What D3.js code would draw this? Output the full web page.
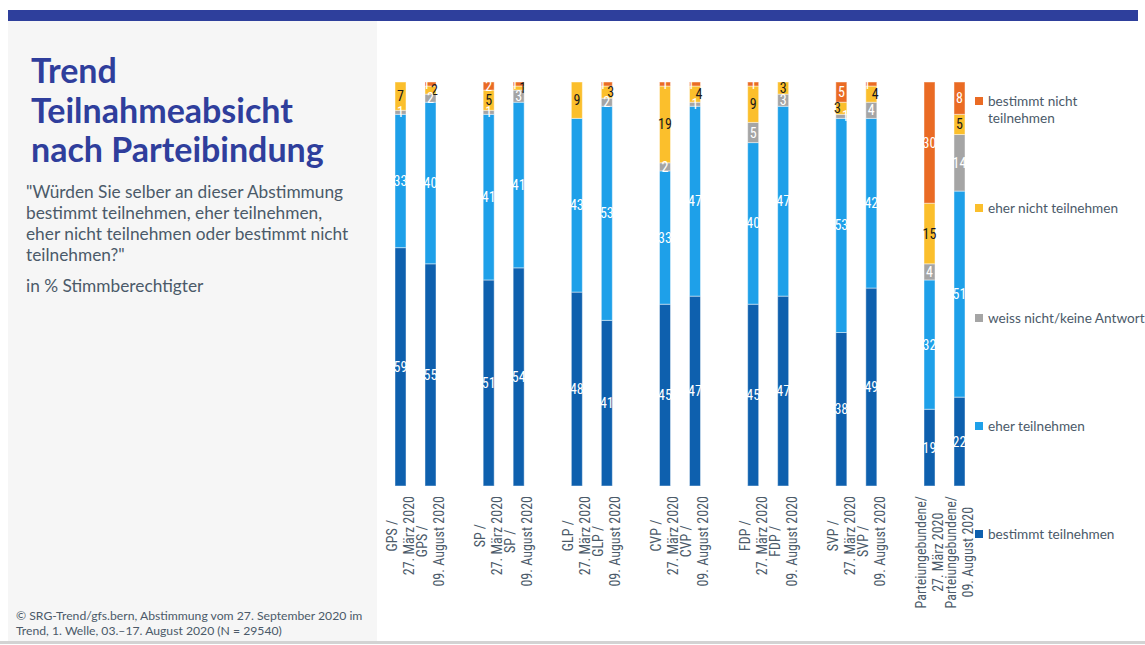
<!DOCTYPE html>
<html>
<head>
<meta charset="utf-8">
<script src="https://cdn.jsdelivr.net/npm/d3@7"></script>
<style>
  html, body { margin: 0; padding: 0; background: #ffffff; }
  svg { display: block; }
</style>
</head>
<body>
<svg id="chart" width="1145" height="645"></svg>
<script>
// Parties and survey waves
const parties = ["GPS", "SP", "GLP", "CVP", "FDP", "SVP", "Parteiungebundene"];
const partyAxisLabels = ["GPS /", "SP /", "GLP /", "CVP /", "FDP /", "SVP /", "Parteiungebundene/"];
const waves = ["27. März 2020", "09. August 2020"];

// Shares in %, one value per bar: party by party, March then August
const bestimmtTeilnehmen = [59, 55, 51, 54, 48, 41, 45, 47, 45, 47, 38, 49, 19, 22];
const eherTeilnehmen     = [33, 40, 41, 41, 43, 53, 33, 47, 40, 47, 53, 42, 32, 51];
const weissNicht         = [1, 2, 1, 3, 0, 2, 2, 1, 5, 3, 1, 4, 4, 14];
const eherNicht          = [7, 2, 5, 1, 9, 3, 19, 4, 9, 3, 3, 4, 15, 5];
const bestimmtNicht      = [0, 1, 2, 1, 0, 1, 1, 1, 1, 0, 5, 1, 30, 8];

const seriesNames = ["bestimmt teilnehmen", "eher teilnehmen", "weiss nicht/keine Antwort", "eher nicht teilnehmen", "bestimmt nicht teilnehmen"];
const legendLabels = [["bestimmt teilnehmen"], ["eher teilnehmen"], ["weiss nicht/keine Antwort"], ["eher nicht teilnehmen"], ["bestimmt nicht", "teilnehmen"]];
const seriesColors = ["#0e60ae", "#1ea0e9", "#a5a5a5", "#fbbf2c", "#ea6b24"];
const labelColors = ["#ffffff", "#ffffff", "#ffffff", "#1a1a1a", "#ffffff"];

const titleLines = ["Trend", "Teilnahmeabsicht", "nach Parteibindung"];
const questionLines = ["\"Würden Sie selber an dieser Abstimmung", "bestimmt teilnehmen, eher teilnehmen,", "eher nicht teilnehmen oder bestimmt nicht", "teilnehmen?\""];
const unitLine = "in % Stimmberechtigter";
const sourceLines = ["© SRG-Trend/gfs.bern, Abstimmung vom 27. September 2020 im", "Trend, 1. Welle, 03.–17. August 2020 (N = 29540)"];

const W = 1145, H = 645;
const svg = d3.select("#chart");
const textFont = "Lato, 'Open Sans', 'Noto Sans', sans-serif";
const narrowFont = "'Liberation Sans Narrow', 'Roboto Condensed', 'DejaVu Sans Condensed', Roboto, sans-serif";
const slate = "#4b5a69";

// Frame: blue header strip, grey side panel, bottom rule
svg.append("rect").attr("x", 8).attr("y", 10).attr("width", 1130).attr("height", 11).attr("fill", "#2e3f9c");
svg.append("rect").attr("x", 8).attr("y", 21).attr("width", 369).attr("height", 620).attr("fill", "#f6f6f6");
svg.append("rect").attr("x", 0).attr("y", 641).attr("width", W).attr("height", 3).attr("fill", "#d3d3d3");

// Title block
const title = svg.append("text").attr("font-family", textFont).attr("font-weight", 700)
  .attr("font-size", 34).attr("fill", "#2f3e9c");
titleLines.forEach((t, i) => title.append("tspan").attr("x", 31).attr("y", 83 + i * 39.5).text(t));

const question = svg.append("text").attr("font-family", textFont).attr("font-size", 17.3).attr("fill", slate);
questionLines.forEach((t, i) => question.append("tspan").attr("x", 26).attr("y", 198 + i * 21).text(t));
svg.append("text").attr("font-family", textFont).attr("font-size", 17.3).attr("fill", slate)
  .attr("x", 26).attr("y", 292).text(unitLine);

const source = svg.append("text").attr("font-family", textFont).attr("font-size", 12.2).attr("fill", slate);
sourceLines.forEach((t, i) => source.append("tspan").attr("x", 16).attr("y", 620 + i * 15).text(t));

// Scales
const y = d3.scaleLinear().domain([0, 100]).range([486, 82]);
const xGroup = d3.scaleBand().domain(parties).range([395, 965]).paddingInner(0.535).paddingOuter(0);
const xWave = d3.scaleBand().domain(waves).range([0, xGroup.bandwidth()]).paddingInner(0.633).paddingOuter(0);

const seriesValues = [bestimmtTeilnehmen, eherTeilnehmen, weissNicht, eherNicht, bestimmtNicht];
const rows = [];
parties.forEach((p, pi) => waves.forEach((w, wi) => {
  const idx = pi * 2 + wi;
  const row = { party: p, wave: w, idx };
  seriesNames.forEach((s, si) => { row[s] = seriesValues[si][idx]; });
  rows.push(row);
}));

const stack = d3.stack().keys(seriesNames);
const stacked = stack(rows);

const barX = r => xGroup(r.party) + xWave(r.wave);
const bw = xWave.bandwidth();

const plot = svg.append("g");
stacked.forEach((layer, si) => {
  plot.append("g").attr("fill", seriesColors[si])
    .selectAll("rect").data(layer.filter(d => d[1] - d[0] > 0)).join("rect")
    .attr("x", d => barX(d.data))
    .attr("width", bw)
    .attr("y", d => y(d[1]))
    .attr("height", d => y(d[0]) - y(d[1]))
    .attr("stroke", "rgba(255,255,255,0.45)")
    .attr("stroke-width", 1);
});

// Value labels, nudged sideways where two small segments sit on top of each other
const labelLayer = svg.append("g").attr("font-family", narrowFont).attr("font-size", 14).attr("text-anchor", "middle");
rows.forEach((r, ri) => {
  const cx = barX(r) + bw / 2;
  const items = [];
  for (let si = seriesNames.length - 1; si >= 0; si--) {
    const d = stacked[si][ri];
    const v = d[1] - d[0];
    if (v <= 0) continue;
    items.push({ si, v, cy: y((d[0] + d[1]) / 2), dx: 0 });
  }
  for (let k = 1; k < items.length; k++) {
    const prev = items[k - 1], cur = items[k];
    if (cur.cy - prev.cy < 11 && prev.dx === 0) {
      prev.dx = -4;
      cur.dx = 4;
    }
  }
  items.forEach(it => {
    labelLayer.append("text")
      .attr("x", cx + it.dx).attr("y", it.cy).attr("dy", "0.36em")
      .attr("fill", labelColors[it.si])
      .text(it.v);
  });
});

// Category labels, rotated, two lines centred under each bar
const axisY = 486;
const catLayer = svg.append("g").attr("font-family", narrowFont).attr("font-size", 14).attr("fill", slate);
rows.forEach((r, ri) => {
  const cx = barX(r) + bw / 2;
  const g = catLayer.append("g");
  const lines = [partyAxisLabels[parties.indexOf(r.party)], r.wave];
  const texts = lines.map((t, li) => g.append("text")
    .attr("text-anchor", "middle")
    .attr("x", 0).attr("y", li === 0 ? -8.5 : 8.5).attr("dy", "0.35em")
    .text(t));
  const maxLen = d3.max(texts, t => t.node().getComputedTextLength());
  g.attr("transform", `translate(${cx},${axisY + 10 + maxLen / 2}) rotate(-90)`);
});

// Legend, top to bottom in stacking order
const legendY = [539, 431, 323, 213, 106];
const legend = svg.append("g").attr("font-family", textFont).attr("font-size", 13.6).attr("fill", slate);
seriesNames.forEach((s, si) => {
  const ly = legendY[si];
  legend.append("rect").attr("x", 975).attr("y", ly - 9).attr("width", 8).attr("height", 8).attr("fill", seriesColors[si]);
  const t = legend.append("text");
  legendLabels[si].forEach((line, li) => t.append("tspan").attr("x", 988).attr("y", ly + li * 17).text(line));
});
</script>
</body>
</html>
